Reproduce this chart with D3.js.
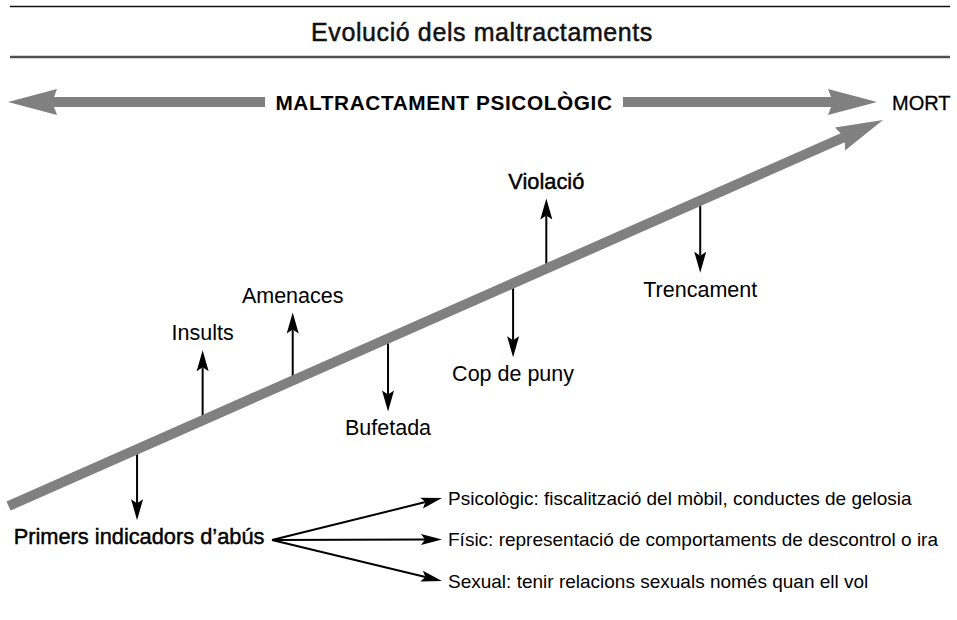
<!DOCTYPE html>
<html>
<head>
<meta charset="utf-8">
<script src="https://cdn.jsdelivr.net/npm/d3@7/dist/d3.min.js"></script>
<style>
  html, body { margin: 0; padding: 0; background: #fff; }
  svg { display: block; font-family: "Liberation Sans", Arial, Helvetica, sans-serif; }
</style>
</head>
<body>
<svg id="chart" width="957" height="620"></svg>
<script>
// ---- data ----
const title = "Evolució dels maltractaments";
const topLabel = "MALTRACTAMENT PSICOLÒGIC";
const endLabel = "MORT";

const stages = ["Primers indicadors d\u2019abús", "Insults", "Amenaces", "Bufetada", "Cop de puny", "Violació", "Trencament"];
const stagePos = [14.7, 22.2, 32.5, 43.4, 57.7, 61.5, 79.1];   // progress along the escalation (0-100)
const stageDir = [-1, 1, 1, -1, -1, 1, -1];                     // 1 = label above, -1 = below
const stageReach = [7.1, 7.0, 6.8, 7.3, 7.4, 7.0, 7.2];         // arrow reach (units)
const stageStrong = [true, false, false, false, false, true, false];

const branchTypes = ["Psicològic", "Físic", "Sexual"];
const branchTexts = ["fiscalització del mòbil, conductes de gelosia",
                     "representació de comportaments de descontrol o ira",
                     "tenir relacions sexuals només quan ell vol"];

// ---- setup ----
const svg = d3.select("#chart");
const W = 957, H = 620;
const GRAY = "#808080";

const xProg = d3.scaleLinear().domain([0, 100]).range([8.5, 883]);
const yProg = d3.scaleLinear().domain([0, 100]).range([506, 120]);
const reach = d3.scaleLinear().domain([0, 10]).range([0, 100]);
const yBranch = d3.scalePoint().domain(branchTypes).range([498, 581]);

function arrowPoly(x0, y0, x1, y1, hw, hl, hh, notch) {
  const dx = x1 - x0, dy = y1 - y0, L = Math.hypot(dx, dy);
  const ux = dx / L, uy = dy / L, nx = -uy, ny = ux;
  const P = (a, b) => [x0 + ux * a + nx * b, y0 + uy * a + ny * b];
  return [P(0, -hw), P(L - hl + notch, -hw), P(L - hl, -hh), P(L, 0),
          P(L - hl, hh), P(L - hl + notch, hw), P(0, hw)];
}
function headPoly(x0, y0, x1, y1, hl, hh, notch) {
  const dx = x1 - x0, dy = y1 - y0, L = Math.hypot(dx, dy);
  const ux = dx / L, uy = dy / L, nx = -uy, ny = ux;
  const P = (a, b) => [x0 + ux * a + nx * b, y0 + uy * a + ny * b];
  return [P(L, 0), P(L - hl, -hh), P(L - hl + notch, 0), P(L - hl, hh)];
}
const line = d3.line();

function smallArrow(g, x0, y0, x1, y1, hl, hh, notch) {
  const L = Math.hypot(x1 - x0, y1 - y0);
  const k = (L - hl + notch) / L;
  g.append("line").attr("x1", x0).attr("y1", y0)
    .attr("x2", x0 + (x1 - x0) * k).attr("y2", y0 + (y1 - y0) * k)
    .attr("stroke", "#000").attr("stroke-width", 2);
  g.append("path").attr("d", line(headPoly(x0, y0, x1, y1, hl, hh, notch)) + "Z").attr("fill", "#000");
}

// ---- header ----
svg.append("line").attr("x1", 10).attr("x2", 950).attr("y1", 6.5).attr("y2", 6.5)
  .attr("stroke", "#111").attr("stroke-width", 1.6);
svg.append("line").attr("x1", 10).attr("x2", 950).attr("y1", 57).attr("y2", 57)
  .attr("stroke", "#505050").attr("stroke-width", 2.4);
svg.append("text").attr("x", 482).attr("y", 41).attr("text-anchor", "middle")
  .attr("font-size", 25).attr("fill", "#111").attr("stroke", "#111").attr("stroke-width", 0.5)
  .attr("letter-spacing", 0.6)
  .text(title);

// ---- horizontal psychological arrow ----
const hy = 102;
svg.append("path").attr("d", line(arrowPoly(265, hy, 8, hy, 5, 49, 13, 3)) + "Z").attr("fill", GRAY);
svg.append("path").attr("d", line(arrowPoly(623, hy, 877, hy, 5, 49, 13, 3)) + "Z").attr("fill", GRAY);
svg.append("text").attr("x", 444).attr("y", hy + 7.5).attr("text-anchor", "middle")
  .attr("font-size", 20.8).attr("font-weight", "bold").attr("letter-spacing", 0.6).attr("fill", "#000")
  .text(topLabel);
svg.append("text").attr("x", 892).attr("y", hy + 7.5).attr("text-anchor", "start")
  .attr("font-size", 20).attr("fill", "#000").attr("stroke", "#000").attr("stroke-width", 0.3)
  .text(endLabel);

// ---- event arrows (drawn under the main line) ----
const gEv = svg.append("g");
stages.forEach((s, i) => {
  const x = xProg(stagePos[i]);
  const yc = yProg(stagePos[i]);
  const tip = yc - stageDir[i] * reach(stageReach[i]);
  smallArrow(gEv, x, yc, x, tip, 21, 6, 4);
  const ty = stageDir[i] > 0 ? tip - 10 : tip + 24;
  const t = gEv.append("text").attr("x", x + (i === 0 ? 2 : 0)).attr("y", ty).attr("text-anchor", "middle")
    .attr("fill", "#000").attr("font-size", stageStrong[i] ? 21.8 : 21.5).text(s);
  if (stageStrong[i]) t.attr("stroke", "#000").attr("stroke-width", 0.45);
});

// ---- main escalation arrow ----
svg.append("path")
  .attr("d", line(arrowPoly(xProg(0), yProg(0), xProg(100), yProg(100), 5, 47, 12.5, 3)) + "Z")
  .attr("fill", GRAY);

// ---- branches ----
const ox = 272, oy = 540, tx = 442;
const gBr = svg.append("g");
branchTypes.forEach((b, i) => {
  const y = yBranch(b);
  smallArrow(gBr, ox, oy, tx, y, 21, 5.5, 4);
  gBr.append("text").attr("x", tx + 6).attr("y", y + 6.5).attr("font-size", 19).attr("fill", "#000")
    .text(b + ": " + branchTexts[i]);
});
</script>
</body>
</html>
